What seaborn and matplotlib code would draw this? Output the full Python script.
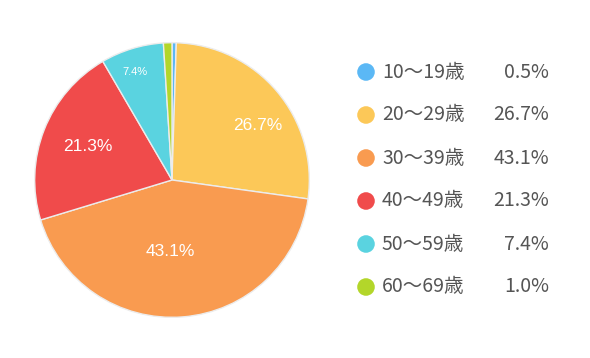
import numpy as np
import seaborn as sns
import matplotlib.pyplot as plt

ages = ['10〜19歳', '20〜29歳', '30〜39歳', '40〜49歳', '50〜59歳', '60〜69歳']
shares = [0.5, 26.7, 43.1, 21.3, 7.4, 1.0]
colors = ['#5bb8f5', '#fcc858', '#f99b50', '#f04b4b', '#5ad3e0', '#b3d62a']

# which slices get an in-pie label, with radial factor / angle tweak / font size
label_style = {1: (0.74, -8, 12.5), 2: (0.52, -6, 12.5), 3: (0.66, 0, 12.5), 4: (0.83, 2, 8)}

sns.set_theme(style='white')
plt.rcParams['font.family'] = ['Noto Sans CJK JP', 'DejaVu Sans']

W, H = 590, 358
fig = plt.figure(figsize=(W / 100, H / 100), dpi=100)

cx, cy, r = 172, 180, 138
ax = fig.add_axes([(cx - r) / W, (H - cy - r) / H, 2 * r / W, 2 * r / H])
wedges, _ = ax.pie(shares, colors=colors, startangle=90, counterclock=False,
                   wedgeprops=dict(edgecolor='#ececec', linewidth=1))
ax.set_xlim(-1.005, 1.005)
ax.set_ylim(-1.005, 1.005)
ax.set_aspect('equal')

total = sum(shares)
start = 90.0
for i, v in enumerate(shares):
    sweep = v / total * 360
    mid = start - sweep / 2
    start -= sweep
    if i in label_style:
        k, dang, fs = label_style[i]
        a = np.deg2rad(mid + dang)
        ax.text(k * np.cos(a), k * np.sin(a), f'{v:.1f}%', ha='center', va='center',
                color='white', fontsize=fs, family=['Liberation Sans', 'DejaVu Sans'])

# legend
lg = fig.add_axes([0, 0, 1, 1])
lg.set_xlim(0, W)
lg.set_ylim(H, 0)
lg.axis('off')
ys = [72 + i * 43 for i in range(len(ages))]
sns.scatterplot(x=[366] * len(ages), y=ys, hue=ages, palette=colors, s=160,
                edgecolor='none', legend=False, ax=lg)
for y, name, v in zip(ys, ages, shares):
    lg.text(382, y, name, ha='left', va='center', fontsize=14, color='#555555')
    lg.text(549, y, f'{v:.1f}%', ha='right', va='center', fontsize=14, color='#555555')

fig.savefig('out.png', dpi=100)
